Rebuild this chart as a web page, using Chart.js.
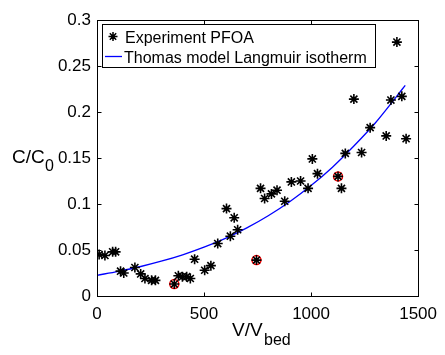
<!DOCTYPE html>
<html>
<head>
<meta charset="utf-8">
<script src="https://cdn.jsdelivr.net/npm/chart.js@4.4.1/dist/chart.umd.min.js"></script>
<style>
  html, body { margin: 0; padding: 0; background: #fff; }
  #wrap { width: 445px; height: 355px; position: relative; }
</style>
</head>
<body>
<div id="wrap"><canvas id="chart"></canvas></div>
<script>
// Experiment PFOA
var expX = [10, 37, 73, 87, 110, 125, 177, 204, 224, 255, 273, 361, 380, 399, 419, 436, 456, 503, 532, 564,
            605, 623, 641, 657, 745, 764, 783, 815, 841, 877, 908, 951, 986, 1006, 1030, 1126, 1142, 1160,
            1200, 1236, 1276, 1351, 1373, 1401, 1424, 1444];
var expY = [0.045, 0.044, 0.048, 0.048, 0.027, 0.025, 0.031, 0.024, 0.019, 0.017, 0.017, 0.013, 0.022, 0.021, 0.021, 0.019, 0.040, 0.028, 0.033, 0.057,
            0.095, 0.065, 0.085, 0.072, 0.039, 0.117, 0.106, 0.111, 0.115, 0.103, 0.124, 0.125, 0.117, 0.149, 0.133, 0.130, 0.117, 0.155,
            0.214, 0.156, 0.183, 0.174, 0.213, 0.276, 0.217, 0.171];

// points circled in red
var markedX = [361, 745, 1126];
var markedY = [0.013, 0.039, 0.130];

// Thomas model Langmuir isotherm
var modelX = [0, 100, 200, 300, 400, 500, 600, 700, 800, 900, 1000, 1100, 1200, 1300, 1400, 1440];
var modelY = [0.0225, 0.0268, 0.0318, 0.0378, 0.0448, 0.0531, 0.0627, 0.0740, 0.0872, 0.1024, 0.120, 0.140, 0.163, 0.188, 0.217, 0.229];

var xTicks = [0, 500, 1000, 1500];
var yTicks = [0, 0.05, 0.1, 0.15, 0.2, 0.25, 0.3];

var FONT = '"Liberation Sans", Arial, sans-serif';

function toPoints(xs, ys) {
    return xs.map(function (x, i) { return {x: x, y: ys[i]}; });
}

function drawStar(ctx, x, y, r) {
    ctx.beginPath();
    for (var k = 0; k < 4; k++) {
        var a = k * Math.PI / 4;
        ctx.moveTo(x - r * Math.cos(a), y - r * Math.sin(a));
        ctx.lineTo(x + r * Math.cos(a), y + r * Math.sin(a));
    }
    ctx.stroke();
}

// box, inward ticks, axis titles with subscripts, legend
var matlabFrame = {
    id: 'matlabFrame',
    afterDraw: function (chart) {
        var ctx = chart.ctx;
        var a = chart.chartArea;
        var sx = chart.scales.x, sy = chart.scales.y;
        var L = Math.round(a.left) + 0.5, R = Math.round(a.right) + 0.5;
        var T = Math.round(a.top) + 0.5, B = Math.round(a.bottom) + 0.5;
        var tl = 4;

        ctx.save();
        ctx.strokeStyle = '#000';
        ctx.lineWidth = 1;
        ctx.beginPath();
        xTicks.forEach(function (v) {
            var px = Math.round(sx.getPixelForValue(v)) + 0.5;
            ctx.moveTo(px, B); ctx.lineTo(px, B - tl);
            ctx.moveTo(px, T); ctx.lineTo(px, T + tl);
        });
        yTicks.forEach(function (v) {
            var py = Math.round(sy.getPixelForValue(v)) + 0.5;
            ctx.moveTo(L, py); ctx.lineTo(L + tl, py);
            ctx.moveTo(R, py); ctx.lineTo(R - tl, py);
        });
        ctx.stroke();
        ctx.strokeRect(L, T, R - L, B - T);

        // axis titles
        ctx.fillStyle = '#000';
        ctx.textBaseline = 'alphabetic';
        ctx.textAlign = 'left';
        ctx.font = '19px ' + FONT;
        ctx.fillText('V/V', 232, 336);
        ctx.fillText('C/C', 12, 163);
        ctx.font = '16px ' + FONT;
        ctx.fillText('bed', 264, 345);
        ctx.fillText('0', 45, 171);

        // legend
        var ds = chart.data.datasets;
        ctx.fillStyle = '#fff';
        ctx.fillRect(102.5, 24.5, 273, 43);
        ctx.strokeStyle = '#000';
        ctx.strokeRect(102.5, 24.5, 273, 43);
        ctx.lineWidth = 1.5;
        drawStar(ctx, 113, 36.5, 4.5);
        ctx.strokeStyle = '#0000ff';
        ctx.lineWidth = 1.3;
        ctx.beginPath();
        ctx.moveTo(105, 56.5); ctx.lineTo(122, 56.5);
        ctx.stroke();
        ctx.fillStyle = '#000';
        ctx.font = '16px ' + FONT;
        ctx.fillText(ds[0].label, 125, 42.5);
        ctx.fillText(ds[2].label, 124, 63);
        ctx.restore();
    }
};

var ctx = document.getElementById('chart').getContext('2d');
var myChart = new Chart(ctx, {
    type: 'scatter',
    data: {
        datasets: [{
            label: 'Experiment PFOA',
            data: toPoints(expX, expY),
            pointStyle: 'star',
            pointRadius: 5,
            pointBorderWidth: 1.6,
            borderColor: '#000',
            backgroundColor: '#000'
        },
        {
            label: 'marked',
            data: toPoints(markedX, markedY),
            pointStyle: 'circle',
            pointRadius: 4.5,
            pointBorderWidth: 1.5,
            borderColor: '#ff0000',
            backgroundColor: 'rgba(0,0,0,0)'
        },
        {
            label: 'Thomas model Langmuir isotherm',
            data: toPoints(modelX, modelY),
            showLine: true,
            cubicInterpolationMode: 'monotone',
            pointRadius: 0,
            borderWidth: 1.3,
            borderColor: '#0000ff',
            backgroundColor: '#0000ff'
        }]
    },
    options: {
        responsive: true,
        maintainAspectRatio: false,
        animation: false,
        events: [],
        layout: { padding: { top: 20, right: 20, left: 0, bottom: 0 } },
        plugins: {
            legend: { display: false },
            tooltip: { enabled: false }
        },
        scales: {
            x: {
                type: 'linear',
                min: 0,
                max: 1500,
                afterBuildTicks: function (s) { s.ticks = xTicks.map(function (v) { return {value: v}; }); },
                afterFit: function (s) { s.height = 59; },
                grid: { display: false, drawTicks: false },
                border: { display: false },
                ticks: {
                    color: '#000',
                    padding: 8,
                    maxRotation: 0,
                    font: { family: FONT, size: 17 },
                    callback: function (v) { return String(v); }
                }
            },
            y: {
                type: 'linear',
                min: 0,
                max: 0.3,
                afterBuildTicks: function (s) { s.ticks = yTicks.map(function (v) { return {value: v}; }); },
                afterFit: function (s) { s.width = 97; },
                grid: { display: false, drawTicks: false },
                border: { display: false },
                ticks: {
                    color: '#000',
                    padding: 6,
                    font: { family: FONT, size: 17 },
                    callback: function (v) { return String(v); }
                }
            }
        }
    },
    plugins: [matlabFrame]
});
</script>
</body>
</html>
